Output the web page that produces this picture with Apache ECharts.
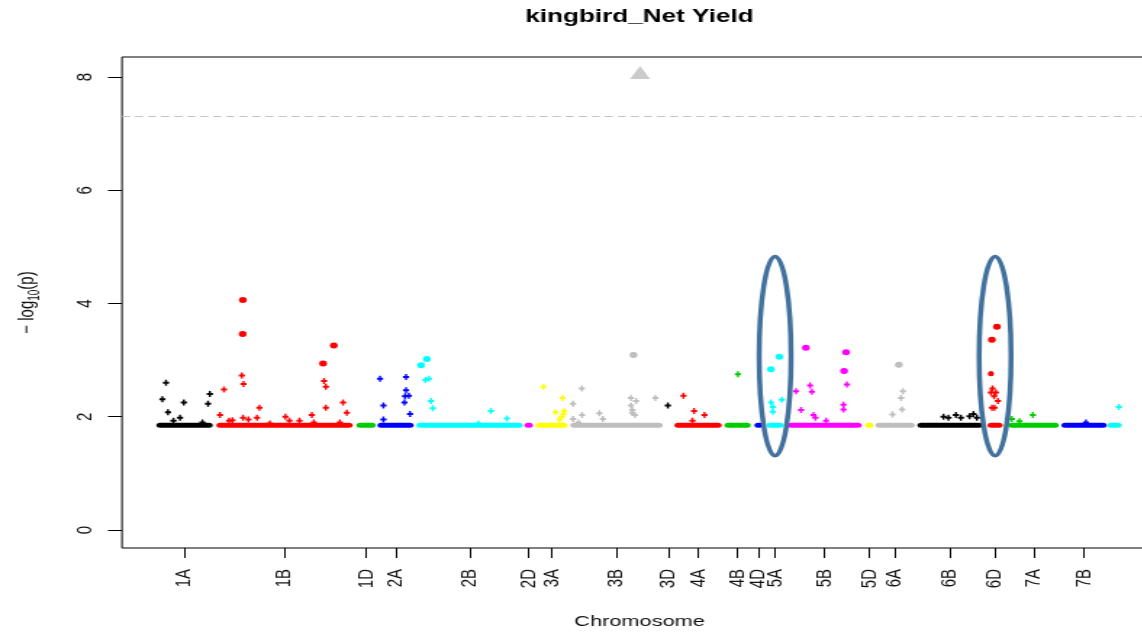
<!DOCTYPE html>
<html><head><meta charset="utf-8">
<script src="https://cdn.jsdelivr.net/npm/echarts@6/dist/echarts.min.js"></script>
<style>
html,body{margin:0;padding:0;background:#fff;overflow:hidden;}
#wrap{width:1142px;height:634px;overflow:hidden;position:relative;background:#fff;}
#chart{width:800px;height:634px;transform:scaleX(1.45);transform-origin:0 0;}
</style></head>
<body><div id="wrap"><div id="chart"></div></div>
<script>
// ---------- data ----------
const chromosomes = ['1A','1B','1D','2A','2B','2D','3A','3B','3D','4A','4B','4D','5A','5B','5D','6A','6B','6D','7A','7B','7D'];
const chrStart = [190, 490, 1190, 1295, 1490, 2030, 2085, 2260, 2728, 2780, 3030, 3180, 3240, 3345, 3733, 3785, 3995, 4345, 4450, 4715, 4945];
const chrEnd   = [435, 1135, 1250, 1440, 1985, 2036, 2210, 2685, 2733, 2980, 3125, 3186, 3290, 3680, 3739, 3945, 4285, 4385, 4665, 4905, 4980];
const tickLabels = ['1A','1B','1D','2A','2B','2D','3A','3B','3D','4A','4B','4D','5A','5B','5D','6A','6B','6D','7A','7B'];
const baselineLogP = 1.85;
const yTickValues = [0, 2, 4, 6, 8];
const thresholdLogP = 7.3;

const snp_1A = [[220,2.60],[202,2.31],[230,2.08],[257,1.93],[290,1.98],[309,2.25],[402,1.90],[430,2.23],[439,2.40]];
const snp_1B = [[510,2.48],[490,2.03],[535,1.93],[552,1.94],[604,4.06],[603,3.46],[599,2.73],[607,2.58],[605,1.98],[632,1.95],[687,2.16],[675,1.98],[739,1.88],[817,2.00],[837,1.93],[887,1.93],[949,2.03],[959,1.90],[1005,2.94],[1059,3.26],[1010,2.63],[1019,2.53],[1019,2.16],[1089,1.90],[1105,2.25],[1124,2.07]];
const snp_1D = [];
const snp_2A = [[1290,2.67],[1307,2.20],[1307,1.95],[1420,2.70],[1420,2.47],[1415,2.36],[1434,2.37],[1412,2.25],[1440,2.05]];
const snp_2B = [[1495,2.91],[1524,3.02],[1517,2.65],[1535,2.67],[1545,2.28],[1554,2.15],[1782,1.88],[1844,2.10],[1924,1.97]];
const snp_2D = [];
const snp_3A = [[2107,2.53],[2202,2.33],[2167,2.08],[2210,2.10],[2207,2.05],[2199,2.00],[2187,1.95]];
const snp_3B = [[2299,2.50],[2255,2.23],[2300,2.03],[2255,1.96],[2387,2.06],[2404,1.96],[2557,3.09],[2544,2.33],[2570,2.28],[2545,2.20],[2552,2.12],[2550,2.07],[2564,2.03],[2667,2.33],[2282,1.90]];
const snp_3D = [[2729,2.20]];
const snp_4A = [[2807,2.37],[2860,2.10],[2912,2.03],[2852,1.93]];
const snp_4B = [[3079,2.75]];
const snp_4D = [];
const snp_5A = [[3287,3.06],[3244,2.84],[3245,2.25],[3299,2.30],[3254,2.17],[3254,2.09]];
const snp_5B = [[3419,3.22],[3370,2.45],[3440,2.55],[3449,2.44],[3395,2.12],[3457,2.03],[3467,1.98],[3520,1.93],[3620,3.14],[3610,2.81],[3624,2.57],[3607,2.21],[3607,2.13]];
const snp_5D = [];
const snp_6A = [[3884,2.92],[3904,2.45],[3895,2.33],[3900,2.13],[3852,2.04]];
const snp_6B = [[4107,2.00],[4132,1.98],[4169,2.03],[4194,1.98],[4237,2.01],[4257,2.05],[4274,1.98]];
const snp_6D = [[4374,3.59],[4349,3.36],[4344,2.76],[4352,2.50],[4344,2.43],[4369,2.43],[4360,2.36],[4379,2.28],[4349,2.16],[4362,2.16]];
const snp_7A = [[4449,1.96],[4487,1.92],[4554,2.03]];
const snp_7B = [[4819,1.90]];
const snp_7D = [[4984,2.17]];
const snpsByChrom = [snp_1A,snp_1B,snp_1D,snp_2A,snp_2B,snp_2D,snp_3A,snp_3B,snp_3D,snp_4A,snp_4B,snp_4D,snp_5A,snp_5B,snp_5D,snp_6A,snp_6B,snp_6D,snp_7A,snp_7B,snp_7D];

// value above the plotted ceiling, drawn as a triangle
const cappedChrom = '3B';
const cappedPos = 2590;
const cappedLogP = 8.08;

// annotated regions
const highlightChroms = ['5A', '6D'];
const highlightLow = 1.31;
const highlightHigh = 4.83;

// ---------- styling ----------
const palette = ['#000000','#FF0000','#00CD00','#0000FF','#00FFFF','#FF00FF','#FFFF00','#BEBEBE'];
const FONT = 'Liberation Sans, Arial, sans-serif';
const PLUS = 'path://M2,0H4V2H6V4H4V6H2V4H0V2H2Z';

const mid = i => (chrStart[i] + chrEnd[i]) / 2;
const tickPos = tickLabels.map(l => mid(chromosomes.indexOf(l)));

const series = [];
chromosomes.forEach((name, i) => {
  const color = palette[i % palette.length];
  series.push({
    type: 'line', silent: true, z: 2,
    data: [[chrStart[i], baselineLogP], [chrEnd[i], baselineLogP]],
    showSymbol: false, symbol: 'none',
    lineStyle: { color: color, width: 5, cap: 'round' },
    animation: false
  });
  series.push({
    type: 'scatter', silent: true, z: 3,
    data: snpsByChrom[i].map(p => {
      const big = p[1] >= 2.8, mid2 = p[1] >= 2.755;
      return {
        value: p,
        symbol: (big || mid2) ? 'circle' : PLUS,
        symbolSize: big ? [5.4, 6] : (mid2 ? [4.3, 5.2] : [4.2, 6])
      };
    }),
    itemStyle: { color: color, opacity: 1 },
    animation: false
  });
});
series.push({
  type: 'scatter', silent: true, z: 3,
  data: [[cappedPos, cappedLogP]],
  symbol: 'triangle', symbolSize: [13.8, 13],
  itemStyle: { color: palette[chromosomes.indexOf(cappedChrom) % palette.length] },
  markLine: {
    silent: true, symbol: ['none', 'none'], label: { show: false },
    lineStyle: { color: '#c4c4c4', type: [5.5, 3.5], width: 1 },
    data: [{ yAxis: thresholdLogP }],
    animation: false
  },
  animation: false
});

const chart = echarts.init(document.getElementById('chart'));
chart.setOption({
  backgroundColor: '#ffffff',
  animation: false,
  title: {
    text: 'kingbird_Net Yield', left: 436, top: 3, textAlign: 'center',
    textStyle: { fontFamily: FONT, fontSize: 18, fontWeight: 'bold', color: '#000' }
  },
  grid: { left: 84.14, right: 2, top: 57, bottom: 86, show: true, borderColor: '#000', borderWidth: 1, backgroundColor: 'transparent' },
  xAxis: {
    type: 'value', min: 0, max: 5175,
    axisLine: { show: false, onZero: false }, splitLine: { show: false },
    axisTick: { show: true, customValues: tickPos, length: 10, lineStyle: { color: '#000', width: 1 } },
    axisLabel: {
      customValues: tickPos, rotate: 90, margin: 21,
      fontFamily: FONT, fontSize: 15, color: '#111',
      formatter: v => { const k = tickPos.findIndex(t => Math.abs(t - v) < 1e-6); return k >= 0 ? tickLabels[k] : ''; }
    },
    name: 'Chromosome', nameLocation: 'middle', nameGap: 66,
    nameTextStyle: { fontFamily: FONT, fontSize: 15, color: '#111' }
  },
  yAxis: {
    type: 'value', min: -0.318, max: 8.353,
    axisLine: { show: false, onZero: false }, splitLine: { show: false },
    axisTick: { show: true, customValues: yTickValues, length: 9.7, lineStyle: { color: '#000', width: 1 } },
    axisLabel: { customValues: yTickValues, rotate: 90, margin: 18, fontFamily: FONT, fontSize: 15, color: '#111' },
    name: '{a|\u2212 log}{b|10}{a|(p)}', nameLocation: 'middle', nameGap: 55,
    nameTextStyle: {
      fontFamily: FONT, color: '#111',
      rich: {
        a: { fontFamily: FONT, fontSize: 15, color: '#111', lineHeight: 20 },
        b: { fontFamily: FONT, fontSize: 10, color: '#111', verticalAlign: 'bottom', lineHeight: 20 }
      }
    }
  },
  series: series
});

// ellipse annotations around highlighted chromosomes
const graphics = highlightChroms.map(c => {
  const i = chromosomes.indexOf(c);
  const top = chart.convertToPixel({ gridIndex: 0 }, [mid(i), highlightHigh]);
  const bot = chart.convertToPixel({ gridIndex: 0 }, [mid(i), highlightLow]);
  return {
    type: 'ellipse', z: 10, silent: true,
    shape: { cx: top[0], cy: (top[1] + bot[1]) / 2, rx: 11, ry: (bot[1] - top[1]) / 2 },
    style: { fill: 'none', stroke: '#41719C', lineWidth: 3.5 }
  };
});
chart.setOption({ graphic: graphics });
</script>
</body></html>
